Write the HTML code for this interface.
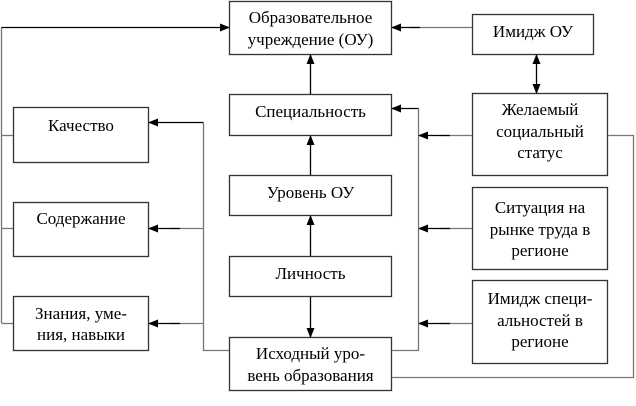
<!DOCTYPE html>
<html><head><meta charset="utf-8"><style>
html,body{margin:0;padding:0;background:#fff;}
svg{display:block;}
</style></head><body>
<svg width="636" height="406" viewBox="0 0 636 406" xmlns="http://www.w3.org/2000/svg">
<defs>
<marker id="a" markerWidth="10" markerHeight="8" refX="9" refY="4" orient="auto" markerUnits="userSpaceOnUse">
<path d="M0,0 L10,4 L0,8 Z" fill="#000"/></marker>
<marker id="s" markerWidth="10" markerHeight="8" refX="1" refY="4" orient="auto" markerUnits="userSpaceOnUse">
<path d="M10,0 L0,4 L10,8 Z" fill="#000"/></marker>
</defs>
<g fill="#fff" stroke="#333" stroke-width="1.3">
<rect x="229.5" y="1.5" width="162" height="53"/>
<rect x="472.5" y="14.5" width="121" height="40"/>
<rect x="229.5" y="94.5" width="162" height="41"/>
<rect x="472.5" y="93.5" width="135" height="82"/>
<rect x="13.5" y="107.5" width="135" height="55"/>
<rect x="229.5" y="175.5" width="162" height="40"/>
<rect x="472.5" y="187.5" width="135" height="82"/>
<rect x="13.5" y="202.5" width="135" height="54"/>
<rect x="229.5" y="256.5" width="162" height="40"/>
<rect x="472.5" y="280.5" width="135" height="83"/>
<rect x="13.5" y="296.5" width="135" height="54"/>
<rect x="229.5" y="337.5" width="162" height="53"/>
</g>
<g fill="none" stroke="#777" stroke-width="1.3">
<path d="M1.5,323 V27.5"/>
<path d="M1.5,135.5 H13"/><path d="M1.5,228.5 H13"/><path d="M1.5,323.5 H13"/>
<path d="M229,350.5 H203.5 V122.5"/>
<path d="M392,350.5 H418.5 V108.5"/>
<path d="M608,135.5 H633.5 V377.5 H392"/>
<path d="M472,135.5 H440"/><path d="M472,228.5 H440"/><path d="M472,323.5 H440"/>
<path d="M203.5,228.5 H170"/><path d="M203.5,323.5 H170"/>
<path d="M472,27.5 H410"/>
</g>
<g fill="none" stroke="#000" stroke-width="1.3">
<path d="M1.5,27.5 H229" marker-end="url(#a)"/>
<path d="M420,27.5 H392" marker-end="url(#a)"/>
<path d="M536.5,55 V93" marker-start="url(#s)" marker-end="url(#a)"/>
<path d="M310.5,94 V55" marker-end="url(#a)"/>
<path d="M310.5,175 V136" marker-end="url(#a)"/>
<path d="M310.5,256 V216" marker-end="url(#a)"/>
<path d="M310.5,297 V337" marker-end="url(#a)"/>
<path d="M418.5,108.5 H392" marker-end="url(#a)"/>
<path d="M450,135.5 H419" marker-end="url(#a)"/>
<path d="M450,228.5 H419" marker-end="url(#a)"/>
<path d="M450,323.5 H419" marker-end="url(#a)"/>
<path d="M203.5,122.5 H149" marker-end="url(#a)"/>
<path d="M180,228.5 H149" marker-end="url(#a)"/>
<path d="M180,323.5 H149" marker-end="url(#a)"/>
</g>
<g font-family="Liberation Serif, DejaVu Serif, serif" font-size="17" fill="#000" text-anchor="middle">
<text x="310.5" y="23">Образовательное</text>
<text x="310.5" y="45">учреждение (ОУ)</text>
<text x="533" y="37">Имидж ОУ</text>
<text x="310.5" y="117">Специальность</text>
<text x="540" y="115">Желаемый</text>
<text x="540" y="137">социальный</text>
<text x="540" y="158">статус</text>
<text x="81" y="131">Качество</text>
<text x="310.5" y="198">Уровень ОУ</text>
<text x="540" y="213">Ситуация на</text>
<text x="540" y="235">рынке труда в</text>
<text x="540" y="256">регионе</text>
<text x="81" y="224">Содержание</text>
<text x="310.5" y="279">Личность</text>
<text x="540" y="304">Имидж специ-</text>
<text x="540" y="326">альностей в</text>
<text x="540" y="347">регионе</text>
<text x="81" y="319">Знания, уме-</text>
<text x="81" y="340">ния, навыки</text>
<text x="310.5" y="359">Исходный уро-</text>
<text x="310.5" y="381">вень образования</text>
</g>
</svg>
</body></html>
